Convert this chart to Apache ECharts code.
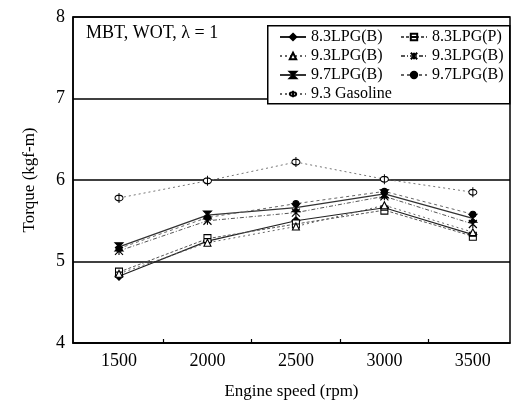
<!DOCTYPE html>
<html><head><meta charset="utf-8">
<script src="https://cdn.jsdelivr.net/npm/echarts@6/dist/echarts.min.js"></script>
<style>html,body{margin:0;padding:0;background:#fff}#c{width:513px;height:405px}</style>
</head><body><div id="c"></div>
<script>
const speeds = [1500, 2000, 2500, 3000, 3500];
const tickValues = [1750, 2250, 2750, 3250];
const yTicks = [4, 5, 6, 7, 8];
const labels = ['8.3LPG(B)', '8.3LPG(P)', '9.3LPG(B)', '9.3LPG(B)', '9.7LPG(B)', '9.7LPG(B)', '9.3 Gasoline'];
const lpg83B = [4.82, 5.25, 5.50, 5.66, 5.33];
const lpg83P = [4.87, 5.28, 5.46, 5.63, 5.31];
const lpg93B = [4.85, 5.23, 5.43, 5.69, 5.36];
const lpg93B2 = [5.13, 5.50, 5.60, 5.80, 5.46];
const lpg97B = [5.18, 5.57, 5.66, 5.83, 5.53];
const lpg97B2 = [5.16, 5.54, 5.71, 5.86, 5.58];
const gasoline = [5.78, 5.99, 6.22, 6.01, 5.85];

const FONT = 'Liberation Serif';
const seriesValues = [lpg83B, lpg83P, lpg93B, lpg93B2, lpg97B, lpg97B2, gasoline];
const symbols = [
  'diamond',
  'path://M0,0H10V12H0Z M0,6H10',
  'triangle',
  'path://M0,0L10,10M10,0L0,10M5,0V10',
  'path://M0,0H10L0,10H10Z',
  'circle',
  'path://M5,0V12M5,2.5A3.5,3.5 0 1 1 4.99,2.5Z'
];
const symSize = [8, [7, 8], 7, 8, [8, 8], 6, [8, 10]];
const symFill = ['#000', '#fff', '#fff', '#000', '#000', '#000', '#fff'];
const lineTypes = ['solid', [3, 2], [2, 3], [4, 2, 1, 2], 'solid', [3, 3], [2, 3]];
const lineColors = ['#222', '#555', '#666', '#555', '#333', '#666', '#666'];
const lineWidths = [1.1, 1, 1, 1, 1.3, 1, 0.9];

const chart = echarts.init(document.getElementById('c'));
const series = seriesValues.map((vals, i) => ({
  name: 's' + i,
  type: 'line',
  data: speeds.map((s, j) => [s, vals[j]]),
  symbol: symbols[i],
  symbolSize: symSize[i],
  itemStyle: { color: symFill[i], borderColor: '#000', borderWidth: 1.1 },
  lineStyle: { color: lineColors[i], width: lineWidths[i], type: lineTypes[i] },
  emphasis: { disabled: true },
  animation: false
}));

const legendBase = {
  top: 29, z: 10, orient: 'vertical',
  itemWidth: 26, itemHeight: 8, itemGap: 3, padding: 0,
  formatter: n => labels[+n.slice(1)],
  textStyle: { fontFamily: FONT, fontSize: 16, color: '#000' }
};

chart.setOption({
  backgroundColor: '#fff',
  animation: false,
  title: {
    text: 'MBT, WOT, λ = 1',
    left: 81, top: 19,
    textStyle: { fontFamily: FONT, fontSize: 18, fontWeight: 'normal', color: '#000' }
  },
  graphic: [{
    type: 'rect', left: 267, top: 25, z: 5,
    shape: { width: 242, height: 78 },
    style: { fill: '#fff', stroke: '#000', lineWidth: 1.5 }
  }],
  legend: [
    Object.assign({}, legendBase, { left: 279, data: ['s0', 's2', 's4', 's6'] }),
    Object.assign({}, legendBase, { left: 400, data: ['s1', 's3', 's5'] })
  ],
  grid: { left: 73, right: 3, top: 17, bottom: 60, show: true, borderColor: '#000', borderWidth: 1.5, backgroundColor: 'transparent' },
  xAxis: {
    type: 'value', min: 1240, max: 3710,
    name: 'Engine speed (rpm)', nameLocation: 'middle', nameGap: 40,
    nameTextStyle: { fontFamily: FONT, fontSize: 17, color: '#000' },
    axisLine: { show: true, lineStyle: { color: '#000', width: 1.5 } },
    axisTick: { show: true, inside: true, length: 4, customValues: tickValues, lineStyle: { color: '#000', width: 1.2 } },
    axisLabel: { customValues: speeds, formatter: v => String(v), fontFamily: FONT, fontSize: 18, color: '#000', margin: 9 },
    splitLine: { show: false }
  },
  yAxis: {
    type: 'value', min: yTicks[0], max: yTicks[yTicks.length - 1], interval: 1,
    name: 'Torque (kgf-m)', nameLocation: 'middle', nameGap: 35,
    nameTextStyle: { fontFamily: FONT, fontSize: 17, color: '#000' },
    axisLine: { show: true, lineStyle: { color: '#000', width: 1.5 } },
    axisTick: { show: false },
    axisLabel: { fontFamily: FONT, fontSize: 18, color: '#000', margin: 8 },
    splitLine: { show: true, lineStyle: { color: '#000', width: 1.5 } }
  },
  series: series
});
</script></body></html>
